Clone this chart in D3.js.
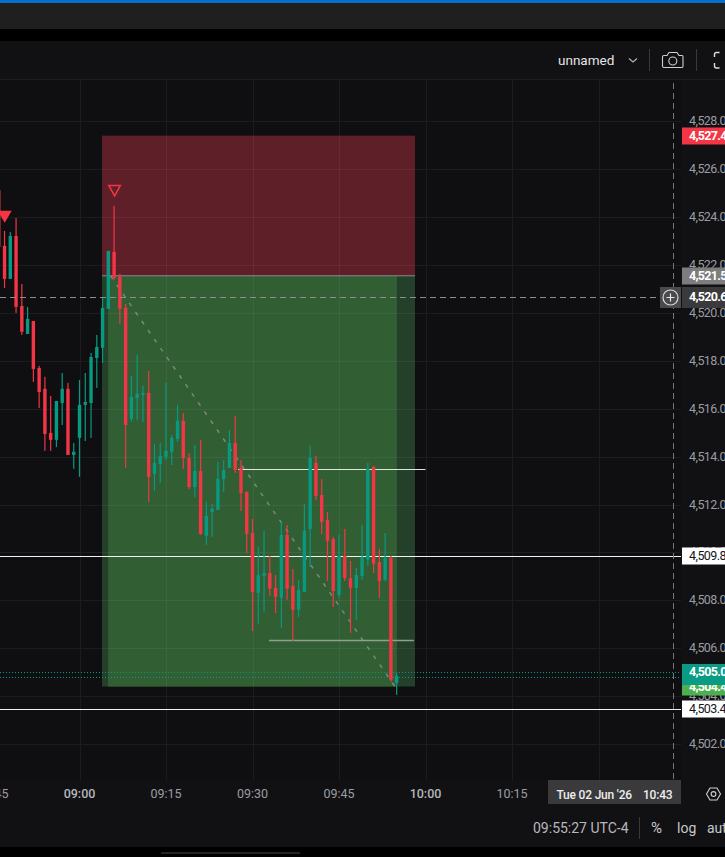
<!DOCTYPE html>
<html>
<head>
<meta charset="utf-8">
<style>
html,body{margin:0;padding:0;background:#000;overflow:hidden;width:725px;height:857px}
svg{display:block}
text{font-family:Roboto,"Noto Sans",sans-serif}
</style>
<script src="https://cdn.jsdelivr.net/npm/d3@7/dist/d3.min.js"></script>
</head>
<body>
<svg id="chart" width="725" height="857"></svg>
<script>
// One-minute candles, oldest first, starting at 08:46 on 2 Jun 2026
const firstBar = new Date(2026, 5, 2, 8, 46);
const opens = [
  4525.13,4522.80,4521.42,4523.21,4520.29,4519.12,4519.66,4517.70,4516.83,4514.99,
  4514.70,4516.24,4516.83,4514.07,4514.78,4516.16,4516.24,4518.12,4518.54,4520.17,
  4522.55,4521.50,4520.21,4515.57,4516.45,4516.57,4516.66,4513.28,4513.69,4513.99,
  4514.20,4514.74,4515.49,4513.94,4512.73,4513.40,4510.69,4511.69,4511.77,4513.07,
  4513.53,4514.57,4513.53,4512.53,4510.81,4508.31,4509.02,4509.14,4508.52,4508.10,
  4510.73,4508.60,4507.60,4508.35,4510.98,4513.74,4512.40,4511.36,4510.56,4508.22,
  4509.85,4508.93,4508.52,4509.02,4509.69,4513.57,4509.60,4508.85,4509.77,4504.55];
const highs = [
  4525.13,4523.42,4523.38,4523.96,4521.21,4520.25,4519.66,4517.79,4517.33,4516.53,
  4516.32,4517.49,4517.08,4514.57,4517.20,4517.49,4518.33,4519.08,4520.62,4522.59,
  4524.47,4521.63,4520.37,4517.37,4518.24,4516.95,4517.58,4514.53,4514.57,4517.08,
  4514.90,4516.16,4515.82,4514.15,4514.49,4514.70,4512.11,4512.02,4513.78,4513.86,
  4515.11,4515.70,4513.86,4512.53,4511.40,4510.23,4510.90,4509.85,4509.06,4511.27,
  4511.15,4509.31,4508.85,4512.02,4514.45,4514.03,4513.07,4511.69,4510.65,4510.73,
  4510.98,4509.64,4509.35,4511.15,4513.74,4513.61,4510.15,4510.81,4509.85,4504.97];
const lows = [
  4522.63,4521.04,4521.42,4520.00,4519.08,4519.12,4517.12,4516.03,4514.24,4514.24,
  4514.40,4515.32,4514.07,4513.49,4513.15,4514.65,4514.78,4516.87,4517.91,4520.17,
  4521.38,4519.54,4513.53,4515.45,4515.53,4515.45,4512.11,4512.57,4512.90,4513.86,
  4513.65,4514.61,4513.49,4512.65,4512.32,4510.73,4510.31,4510.65,4511.77,4512.53,
  4513.53,4513.32,4511.73,4509.98,4506.72,4507.01,4507.52,4508.18,4507.47,4506.85,
  4508.02,4506.30,4507.31,4508.35,4509.39,4512.19,4510.77,4508.81,4507.72,4508.10,
  4508.81,4506.64,4507.18,4508.85,4509.44,4509.14,4508.10,4508.81,4504.59,4504.05];
const closes = [
  4522.75,4521.42,4523.21,4520.25,4519.21,4519.75,4517.66,4516.70,4514.95,4514.70,
  4516.32,4516.83,4514.07,4514.20,4516.16,4516.28,4518.16,4518.58,4520.21,4522.59,
  4521.46,4520.17,4515.32,4516.49,4516.62,4516.66,4513.15,4513.74,4514.03,4514.24,
  4514.78,4515.49,4513.94,4512.73,4513.40,4510.77,4511.52,4511.82,4513.07,4513.44,
  4514.57,4513.44,4512.48,4510.77,4508.35,4509.06,4509.14,4508.48,4508.14,4510.73,
  4508.48,4507.60,4508.43,4510.90,4513.94,4512.36,4511.27,4510.48,4508.39,4509.85,
  4508.93,4508.52,4509.06,4509.81,4513.49,4509.52,4508.81,4509.77,4504.68,4504.84];

// Short position tool: stop, entry and target prices, plus its time span
const positionStop = 4527.40;
const positionEntry = 4521.55;
const positionTarget = 4504.40;
const positionStart = new Date(2026, 5, 2, 9, 3, 54);
const positionEnd = new Date(2026, 5, 2, 9, 58, 11);
const innerStart = new Date(2026, 5, 2, 9, 4, 57);
const innerEnd = new Date(2026, 5, 2, 9, 55, 3);
const tradeFrom = new Date(2026, 5, 2, 9, 5, 22);
const tradeTo = new Date(2026, 5, 2, 9, 54, 42);

// Horizontal levels
const fullLevels = [4509.85, 4503.45];
const partialLevels = [
  {price: 4513.49, from: new Date(2026, 5, 2, 9, 27, 30), to: new Date(2026, 5, 2, 10, 0, 0), width: 1.1, tone: "#dbe8db"},
  {price: 4506.34, from: new Date(2026, 5, 2, 9, 32, 52), to: new Date(2026, 5, 2, 9, 58, 0), width: 1.4, tone: "#8fa08f"}
];
const dottedLevels = [4505.00, 4504.80];

// Sell signals, pinned to a bar with an anchor price at the triangle's top
const signals = [
  {bar: new Date(2026, 5, 2, 8, 47), price: 4524.26, filled: true},
  {bar: new Date(2026, 5, 2, 9, 6), price: 4525.32, filled: false}
];

// Axis ticks and the crosshair position
const priceTicks = d3.range(4502, 4529, 2);
const timeTicks = d3.range(0, 8).map(i => new Date(2026, 5, 2, 8, 45 + i * 15));
const crossTime = new Date(2026, 5, 2, 10, 43);
const crossPrice = 4520.66;

const red = "#f23645", green = "#089981";
const bg = "#0f0f11";
const plotTop = 79, plotBottom = 780, plotRight = 681;

const x = d3.scaleTime()
  .domain([new Date(2026, 5, 2, 9, 0), new Date(2026, 5, 2, 10, 15)])
  .range([79.5, 512]);
const y = d3.scaleLinear().domain([4502, 4528]).range([744, 121.3]);
const fmtPrice = d3.format(",.2f");
const fmtTime = d3.timeFormat("%H:%M");

const svg = d3.select("#chart");

// Window frame: accent strip, toolbar band, gap, chart panel
const frame = [
  {y: 0, h: 3, c: "#0a6ed1"},
  {y: 3, h: 26, c: "#1f1f1f"},
  {y: 29, h: 12, c: "#000000"},
  {y: 41, h: 806, c: "#111113"},
  {y: 847, h: 10, c: "#000000"}
];
svg.selectAll("rect.frame").data(frame).join("rect").attr("class", "frame")
  .attr("x", 0).attr("width", 725).attr("y", d => d.y).attr("height", d => d.h).attr("fill", d => d.c);
svg.append("rect").attr("x", 0).attr("y", plotTop).attr("width", plotRight).attr("height", plotBottom - plotTop).attr("fill", bg);
svg.append("line").attr("x1", 0).attr("x2", 725).attr("y1", plotTop + 0.5).attr("y2", plotTop + 0.5).attr("stroke", "#1e1e21");
svg.append("rect").attr("x", 161).attr("y", 852).attr("width", 139).attr("height", 2).attr("fill", "#242427");

// Price axis with its grid
const yAxis = svg.append("g").attr("transform", `translate(${plotRight},0)`)
  .call(d3.axisRight(y).offset(0).tickValues(priceTicks).tickFormat(fmtPrice).tickSize(0).tickPadding(8));
yAxis.select(".domain").remove();
yAxis.selectAll("text").attr("fill", "#9a9ca3").attr("font-size", 12.5).attr("letter-spacing", -0.55)
  .style("font-family", "Roboto,sans-serif");
svg.append("g").selectAll("line").data(priceTicks).join("line")
  .attr("x1", 0).attr("x2", plotRight)
  .attr("y1", d => Math.round(y(d)) + 0.5).attr("y2", d => Math.round(y(d)) + 0.5)
  .attr("stroke", "#1c1c1f");

// Time axis with its grid
const xAxis = svg.append("g").attr("transform", `translate(0,${plotBottom})`)
  .call(d3.axisBottom(x).offset(0).tickValues(timeTicks).tickFormat(fmtTime).tickSize(0).tickPadding(9));
xAxis.select(".domain").remove();
xAxis.selectAll("text")
  .attr("fill", d => d.getMinutes() === 0 ? "#b4b6bc" : "#9a9ca3")
  .attr("font-weight", d => d.getMinutes() === 0 ? 500 : 400)
  .attr("font-size", 12.5).style("font-family", "Roboto,sans-serif");
svg.append("g").selectAll("line").data(timeTicks).join("line")
  .attr("x1", d => Math.round(x(d)) + 0.5).attr("x2", d => Math.round(x(d)) + 0.5)
  .attr("y1", plotTop).attr("y2", plotBottom)
  .attr("stroke", "#1c1c1f");

// Position tool zones
const zones = svg.append("g");
zones.append("rect").attr("x", x(positionStart)).attr("width", x(positionEnd) - x(positionStart))
  .attr("y", y(positionStop)).attr("height", y(positionEntry) - y(positionStop)).attr("fill", "#5f1f28");
zones.append("rect").attr("x", x(positionStart)).attr("width", x(positionEnd) - x(positionStart))
  .attr("y", y(positionEntry)).attr("height", y(positionTarget) - y(positionEntry)).attr("fill", "#24402a");
zones.append("rect").attr("x", x(innerStart)).attr("width", x(innerEnd) - x(innerStart))
  .attr("y", y(positionEntry)).attr("height", y(positionTarget) - y(positionEntry)).attr("fill", "#325e33");
zones.append("line").attr("x1", x(positionStart)).attr("x2", x(positionEnd))
  .attr("y1", y(positionEntry)).attr("y2", y(positionEntry))
  .attr("stroke", "#8a8a8a").attr("stroke-width", 1);
// Grid shows faintly through the zones
svg.append("g").selectAll("line").data(timeTicks.filter(d => x(d) > x(positionStart) && x(d) < x(positionEnd))).join("line")
  .attr("x1", d => Math.round(x(d)) + 0.5).attr("x2", d => Math.round(x(d)) + 0.5)
  .attr("y1", y(positionStop)).attr("y2", y(positionTarget))
  .attr("stroke", "#ffffff").attr("stroke-opacity", 0.05);
svg.append("g").selectAll("line").data(priceTicks.filter(d => d < positionStop && d > positionTarget)).join("line")
  .attr("x1", x(positionStart)).attr("x2", x(positionEnd))
  .attr("y1", d => Math.round(y(d)) + 0.5).attr("y2", d => Math.round(y(d)) + 0.5)
  .attr("stroke", "#ffffff").attr("stroke-opacity", 0.05);

// Trade path across the position
svg.append("line")
  .attr("x1", x(tradeFrom)).attr("y1", y(positionEntry))
  .attr("x2", x(tradeTo)).attr("y2", y(positionTarget))
  .attr("stroke", "#7f867f").attr("stroke-width", 1.5).attr("stroke-dasharray", "4 7");

// Horizontal levels
svg.append("g").selectAll("line").data(dottedLevels).join("line")
  .attr("x1", 0).attr("x2", plotRight)
  .attr("y1", d => Math.round(y(d)) + 0.5).attr("y2", d => Math.round(y(d)) + 0.5)
  .attr("stroke", green).attr("stroke-dasharray", "1 2");
svg.append("g").selectAll("line").data(fullLevels).join("line")
  .attr("x1", 0).attr("x2", plotRight)
  .attr("y1", d => Math.round(y(d)) + 0.5).attr("y2", d => Math.round(y(d)) + 0.5)
  .attr("stroke", "#ffffff").attr("stroke-opacity", 0.95);
svg.append("g").selectAll("line").data(partialLevels).join("line")
  .attr("x1", d => x(d.from)).attr("x2", d => x(d.to))
  .attr("y1", d => Math.round(y(d.price)) + 0.5).attr("y2", d => Math.round(y(d.price)) + 0.5)
  .attr("stroke", d => d.tone).attr("stroke-width", d => d.width);

// Candles
const bars = opens.map((o, i) => ({
  time: d3.timeMinute.offset(firstBar, i), open: o, high: highs[i], low: lows[i], close: closes[i]
}));
const candle = svg.append("g").selectAll("g").data(bars).join("g")
  .attr("fill", d => d.close >= d.open ? green : red)
  .attr("stroke", "none");
candle.append("rect")
  .attr("x", d => x(d.time) - 0.6)
  .attr("width", 1.2)
  .attr("y", d => y(d.high))
  .attr("height", d => y(d.low) - y(d.high));
candle.append("rect")
  .attr("x", d => x(d.time) - 1.7)
  .attr("width", 3.4)
  .attr("y", d => y(Math.max(d.open, d.close)))
  .attr("height", d => Math.max(1, Math.abs(y(d.open) - y(d.close))));

// Signal triangles
svg.append("g").selectAll("path").data(signals).join("path")
  .attr("d", d => {
    const cx = x(d.bar) + (d.filled ? 0.2 : 0.5), top = y(d.price);
    const half = d.filled ? 7 : 5.8, h = d.filled ? 12 : 10.5;
    const p = d3.path();
    p.moveTo(cx - half, top); p.lineTo(cx + half, top); p.lineTo(cx, top + h); p.closePath();
    return p.toString();
  })
  .attr("fill", d => d.filled ? red : "none")
  .attr("stroke", red).attr("stroke-width", d => d.filled ? 0 : 1.5);

// Crosshair
const crossY = Math.round(y(crossPrice)) + 0.5, crossX = Math.round(x(crossTime)) + 0.5;
svg.append("line").attr("x1", 0).attr("x2", plotRight - 21).attr("y1", crossY).attr("y2", crossY)
  .attr("stroke", "#8e8e90").attr("stroke-dasharray", "6 4");
svg.append("line").attr("x1", crossX).attr("x2", crossX).attr("y1", plotTop + 4).attr("y2", plotBottom)
  .attr("stroke", "#77777a").attr("stroke-dasharray", "6 4");

// Price tags on the axis
const tags = [
  {price: positionStop, fill: red, text: "#ffffff", weight: 700, above: 8.5, below: 8.5},
  {price: positionEntry, fill: "#7d7d7d", text: "#ffffff", weight: 700, above: 8.5, below: 8.5},
  {price: fullLevels[0], fill: "#ffffff", text: "#131722", weight: 400, above: 8.5, below: 8.5},
  {price: positionTarget, fill: "#4caf50", text: "#ffffff", weight: 700, above: 8, below: 8.5},
  {price: dottedLevels[0], fill: "#0a9b84", text: "#ffffff", weight: 700, above: 8, below: 13},
  {price: fullLevels[1], fill: "#ffffff", text: "#131722", weight: 400, above: 8.5, below: 8.5},
  {price: crossPrice, fill: "#3a3a3c", text: "#ffffff", weight: 700, above: 10, below: 11}
];
const tag = svg.append("g").selectAll("g").data(tags).join("g")
  .attr("transform", d => `translate(682,${Math.round(y(d.price))})`);
tag.append("rect").attr("x", 0).attr("width", 43).attr("y", d => -d.above).attr("height", d => d.above + d.below).attr("fill", d => d.fill);
tag.append("text").attr("x", 7).attr("dy", "0.34em").attr("font-size", 12.5).attr("letter-spacing", d => d.weight > 400 ? -0.7 : -0.55)
  .attr("fill", d => d.text).attr("font-weight", d => d.weight).text(d => fmtPrice(d.price));

// Crosshair plus button
const plus = svg.append("g").attr("transform", `translate(670.5,${crossY})`);
plus.append("rect").attr("x", -10.5).attr("y", -10.5).attr("width", 21).attr("height", 21).attr("fill", "#4a4a4c");
plus.append("circle").attr("r", 7.5).attr("fill", "none").attr("stroke", "#d8d8d8").attr("stroke-width", 1.2);
plus.append("path").attr("d", "M-4 0H4M0 -4V4").attr("stroke", "#e8e8e8").attr("stroke-width", 1.2);

// Crosshair time tag
svg.append("rect").attr("x", 548).attr("y", plotBottom).attr("width", 133).attr("height", 24).attr("fill", "#3a3a3c");
svg.append("text").attr("x", 556.5).attr("y", 799).attr("font-size", 12).attr("letter-spacing", -0.2).attr("font-weight", 500).attr("fill", "#eeeeee")
  .text("Tue 02 Jun '26");
svg.append("text").attr("x", 643).attr("y", 799).attr("font-size", 12).attr("letter-spacing", -0.2).attr("font-weight", 500).attr("fill", "#eeeeee")
  .text(fmtTime(crossTime));

// Settings hexagon on the axis corner
const hex = svg.append("g").attr("transform", "translate(713.5,794)").attr("fill", "none").attr("stroke", "#cfcfcf").attr("stroke-width", 1.1);
hex.append("path").attr("d", "M-7 0L-3.5 -6H3.5L7 0L3.5 6H-3.5Z");
hex.append("circle").attr("r", 2.4);

// Status row below the time axis
svg.append("text").attr("x", 533).attr("y", 833).attr("font-size", 14).attr("fill", "#b8b8bb").text("09:55:27 UTC-4");
svg.append("line").attr("x1", 639.5).attr("x2", 639.5).attr("y1", 817).attr("y2", 839).attr("stroke", "#3a3a3d");
svg.append("text").attr("x", 651).attr("y", 833).attr("font-size", 15).attr("fill", "#c8c8cb").text("%");
svg.append("text").attr("x", 677).attr("y", 833).attr("font-size", 14).attr("fill", "#c8c8cb").text("log");
svg.append("text").attr("x", 707).attr("y", 833).attr("font-size", 14).attr("fill", "#c8c8cb").text("auto");

// Header controls
svg.append("text").attr("x", 558).attr("y", 65).attr("font-size", 13.5).attr("font-weight", 400).attr("fill", "#e4e4e4").text("unnamed");
svg.append("path").attr("d", "M629 58.5L633 62L637 58.5").attr("fill", "none").attr("stroke", "#b5b5b5").attr("stroke-width", 1.1);
svg.append("line").attr("x1", 649.5).attr("x2", 649.5).attr("y1", 49).attr("y2", 71).attr("stroke", "#3a3a3d");
svg.append("line").attr("x1", 696.5).attr("x2", 696.5).attr("y1", 49).attr("y2", 71).attr("stroke", "#3a3a3d");
svg.append("path").attr("d", "M664 55.5H667L669 52.5H677L679 55.5H682Q683 55.5 683 57V66Q683 67.5 682 67.5H664Q662.5 67.5 662.5 66V57Q662.5 55.5 664 55.5Z")
  .attr("fill", "none").attr("stroke", "#cfcfcf").attr("stroke-width", 1.1);
svg.append("circle").attr("cx", 672.8).attr("cy", 61).attr("r", 4).attr("fill", "none").attr("stroke", "#cfcfcf").attr("stroke-width", 1.1);
svg.append("path").attr("d", "M719.5 52.5H716.5Q714.5 52.5 714.5 54.5V57M714.5 63V66Q714.5 68 716.5 68H719.5")
  .attr("fill", "none").attr("stroke", "#dddddd").attr("stroke-width", 1.4);
</script>
</body>
</html>
